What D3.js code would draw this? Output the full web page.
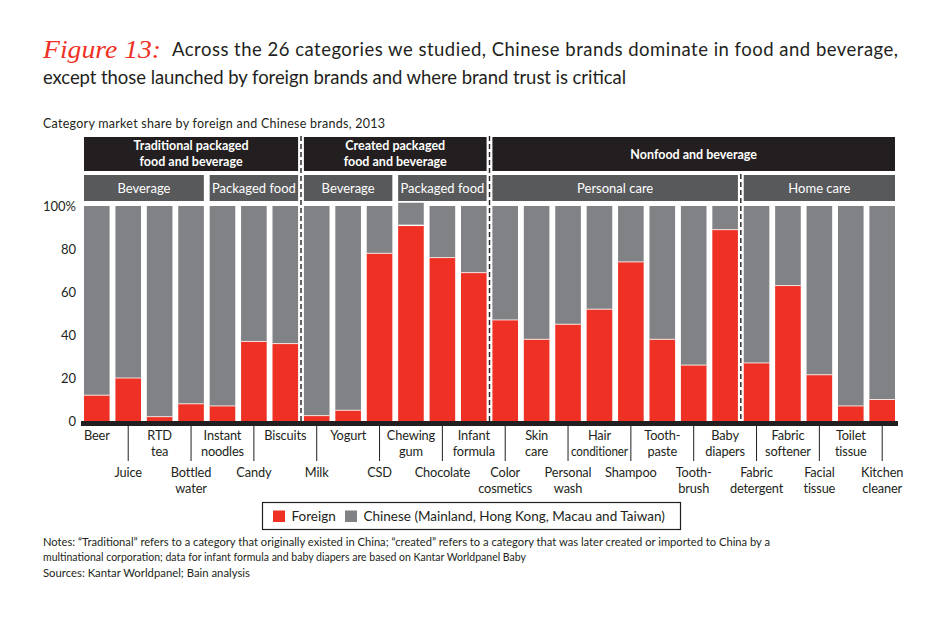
<!DOCTYPE html>
<html>
<head>
<meta charset="utf-8">
<script src="https://cdn.jsdelivr.net/npm/d3@7"></script>
<style>
  body { margin: 0; background: #fff; }
  svg { font-family: Lato, "Noto Sans", sans-serif; }
</style>
</head>
<body>
<svg width="950" height="620"></svg>
<script>
// data
const categories = ["Beer", "Juice", "RTD\ntea", "Bottled\nwater", "Instant\nnoodles", "Candy", "Biscuits",
  "Milk", "Yogurt", "CSD", "Chewing\ngum", "Chocolate", "Infant\nformula",
  "Color\ncosmetics", "Skin\ncare", "Personal\nwash", "Hair\nconditioner", "Shampoo", "Tooth-\npaste",
  "Tooth-\nbrush", "Baby\ndiapers", "Fabric\ndetergent", "Fabric\nsoftener", "Facial\ntissue", "Toilet\ntissue", "Kitchen\ncleaner"]
const foreign = [12, 20, 2, 8, 7, 37, 36, 2.5, 5, 78, 91, 76, 69, 47, 38, 45, 52, 74, 38, 26, 89, 27, 63, 21.5, 7, 10]
const chinese = [88, 80, 98, 92, 93, 63, 64, 97.5, 95, 22, 10.5, 24, 31, 53, 62, 55, 48, 26, 62, 74, 11, 73, 37, 78.5, 93, 90]

const sectors = ["Traditional packaged\nfood and beverage", "Created packaged\nfood and beverage", "Nonfood and beverage"]
const sectorSpans = [["Beer", "Biscuits"], ["Milk", "Infant\nformula"], ["Color\ncosmetics", "Kitchen\ncleaner"]]
const segments = ["Beverage", "Packaged food", "Beverage", "Packaged food", "Personal care", "Home care"]
const segmentSpans = [["Beer", "Bottled\nwater"], ["Instant\nnoodles", "Biscuits"], ["Milk", "CSD"],
  ["Chewing\ngum", "Infant\nformula"], ["Color\ncosmetics", "Baby\ndiapers"], ["Fabric\ndetergent", "Kitchen\ncleaner"]]
const yTicks = [0, 20, 40, 60, 80, 100]
const seriesNames = ["Foreign", "Chinese (Mainland, Hong Kong, Macau and Taiwan)"]

const RED = "#ee3124", GREY = "#808285", DARK = "#231f20", MID = "#58595b"

const svg = d3.select("svg")

const x = d3.scaleBand().domain(categories).range([84, 895]).paddingInner(0.185)
const y = d3.scaleLinear().domain([0, 100]).range([421, 206])
const bw = x.bandwidth()

// title
const title = svg.append("g")
title.append("text")
  .attr("x", 43).attr("y", 58)
  .attr("fill", RED).attr("font-family", "'Liberation Serif', serif")
  .attr("font-style", "italic").attr("font-size", 25)
  .attr("textLength", 118).attr("lengthAdjust", "spacingAndGlyphs")
  .text("Figure 13:")
title.append("text")
  .attr("x", 172).attr("y", 56).attr("fill", DARK).attr("font-size", 18.5)
  .attr("textLength", 726).attr("lengthAdjust", "spacing")
  .text("Across the 26 categories we studied, Chinese brands dominate in food and beverage,")
title.append("text")
  .attr("x", 43).attr("y", 84).attr("fill", DARK).attr("font-size", 18.5)
  .attr("textLength", 583).attr("lengthAdjust", "spacing")
  .text("except those launched by foreign brands and where brand trust is critical")

svg.append("text")
  .attr("x", 43).attr("y", 128).attr("fill", DARK).attr("font-size", 12.5)
  .attr("textLength", 342).attr("lengthAdjust", "spacing")
  .text("Category market share by foreign and Chinese brands, 2013")

// header bands
const spanX = s => [x(s[0]), x(s[1]) + bw]

const sectorG = svg.append("g").selectAll("g")
  .data(sectors)
  .join("g")
sectorG.append("rect")
  .attr("x", (d, i) => spanX(sectorSpans[i])[0])
  .attr("width", (d, i) => spanX(sectorSpans[i])[1] - spanX(sectorSpans[i])[0])
  .attr("y", 137).attr("height", 34)
  .attr("fill", DARK)
sectorG.append("text")
  .attr("x", (d, i) => d3.mean(spanX(sectorSpans[i])))
  .attr("y", d => d.includes("\n") ? 150 : 158.5)
  .attr("text-anchor", "middle").attr("fill", "#fff")
  .attr("font-size", 12.5).attr("font-weight", 700)
  .selectAll("tspan")
  .data(d => d.split("\n"))
  .join("tspan")
  .attr("x", function () { return this.parentNode.getAttribute("x") })
  .attr("dy", (d, i) => i ? 16 : 0)
  .text(d => d)

const segG = svg.append("g").selectAll("g")
  .data(segments)
  .join("g")
segG.append("rect")
  .attr("x", (d, i) => spanX(segmentSpans[i])[0])
  .attr("width", (d, i) => spanX(segmentSpans[i])[1] - spanX(segmentSpans[i])[0])
  .attr("y", 175).attr("height", 26)
  .attr("fill", MID)
segG.append("text")
  .attr("x", (d, i) => d3.mean(spanX(segmentSpans[i])))
  .attr("y", 192.5)
  .attr("text-anchor", "middle").attr("fill", "#fff")
  .attr("font-size", 13)
  .text(d => d)

// y labels
svg.append("g").selectAll("text")
  .data(yTicks)
  .join("text")
  .attr("x", 76).attr("y", d => y(d)).attr("dy", "0.35em")
  .attr("text-anchor", "end").attr("fill", DARK).attr("font-size", 13)
  .text(d => d === 100 ? "100%" : d)

// stacked bars
const bars = svg.append("g").selectAll("g")
  .data(categories)
  .join("g")
bars.append("rect")
  .attr("x", d => x(d)).attr("width", bw)
  .attr("y", (d, i) => y(foreign[i] + chinese[i]))
  .attr("height", (d, i) => y(foreign[i]) - y(foreign[i] + chinese[i]))
  .attr("fill", GREY)
bars.append("rect")
  .attr("x", d => x(d)).attr("width", bw)
  .attr("y", (d, i) => y(foreign[i]))
  .attr("height", (d, i) => y(0) - y(foreign[i]))
  .attr("fill", RED)
bars.append("line")
  .attr("x1", d => x(d)).attr("x2", d => x(d) + bw)
  .attr("y1", (d, i) => y(foreign[i])).attr("y2", (d, i) => y(foreign[i]))
  .attr("stroke", "#fff").attr("stroke-width", (d, i) => foreign[i] + chinese[i] > 100 ? 1.4 : 0.8)

// dashed dividers between groups
const gapAfter = d => x(d) + bw + (x.step() - bw) / 2
const dividers = [["Biscuits", 136], ["Infant\nformula", 136], ["Baby\ndiapers", 174]]
svg.append("g").selectAll("line")
  .data(dividers)
  .join("line")
  .attr("x1", d => gapAfter(d[0])).attr("x2", d => gapAfter(d[0]))
  .attr("y1", d => d[1]).attr("y2", 421)
  .attr("stroke", DARK).attr("stroke-width", 1.4).attr("stroke-dasharray", "5,3")

// baseline
svg.append("rect")
  .attr("x", 81).attr("y", y(0)).attr("width", 817).attr("height", 5)
  .attr("fill", DARK)

// category labels, staggered in two rows
const labels = svg.append("g").selectAll("g")
  .data(categories)
  .join("g")
labels.filter((d, i) => i % 2 === 1).append("line")
  .attr("x1", d => x(d) + bw / 2).attr("x2", d => x(d) + bw / 2)
  .attr("y1", 426).attr("y2", 461)
  .attr("stroke", DARK).attr("stroke-width", 1)
labels.append("text")
  .attr("x", d => x(d) + bw / 2)
  .attr("y", (d, i) => i % 2 ? 477 : 440)
  .attr("text-anchor", "middle").attr("fill", DARK).attr("font-size", 12.8)
  .attr("letter-spacing", -0.15)
  .selectAll("tspan")
  .data(d => d.split("\n"))
  .join("tspan")
  .attr("x", function () { return this.parentNode.getAttribute("x") })
  .attr("dy", (d, i) => i ? 16 : 0)
  .attr("textLength", d => d === "conditioner" ? 57 : null)
  .attr("lengthAdjust", "spacingAndGlyphs")
  .text(d => d)

// legend
const legend = svg.append("g")
legend.append("rect")
  .attr("x", 262.5).attr("y", 502.5).attr("width", 418).attr("height", 27)
  .attr("fill", "none").attr("stroke", DARK).attr("stroke-width", 1.2)
const legX = [273, 345]
const item = legend.selectAll("g.item")
  .data(seriesNames)
  .join("g").attr("class", "item")
item.append("rect")
  .attr("x", (d, i) => legX[i]).attr("y", 510.5).attr("width", 12).attr("height", 11.5)
  .attr("fill", (d, i) => i ? GREY : RED)
item.append("text")
  .attr("x", (d, i) => legX[i] + 18.5).attr("y", 521)
  .attr("fill", DARK).attr("font-size", 13.5)
  .text(d => d)

// notes
const notes = [
  "Notes: \u201cTraditional\u201d refers to a category that originally existed in China; \u201ccreated\u201d refers to a category that was later created or imported to China by a",
  "multinational corporation; data for infant formula and baby diapers are based on Kantar Worldpanel Baby",
  "Sources: Kantar Worldpanel; Bain analysis"
]
const noteWidths = [727, 483, 207]
svg.append("g").selectAll("text")
  .data(notes)
  .join("text")
  .attr("x", 43).attr("y", (d, i) => 546 + i * 15.3)
  .attr("fill", DARK).attr("font-size", 10.5)
  .attr("textLength", (d, i) => noteWidths[i]).attr("lengthAdjust", "spacingAndGlyphs")
  .text(d => d)
</script>
</body>
</html>
